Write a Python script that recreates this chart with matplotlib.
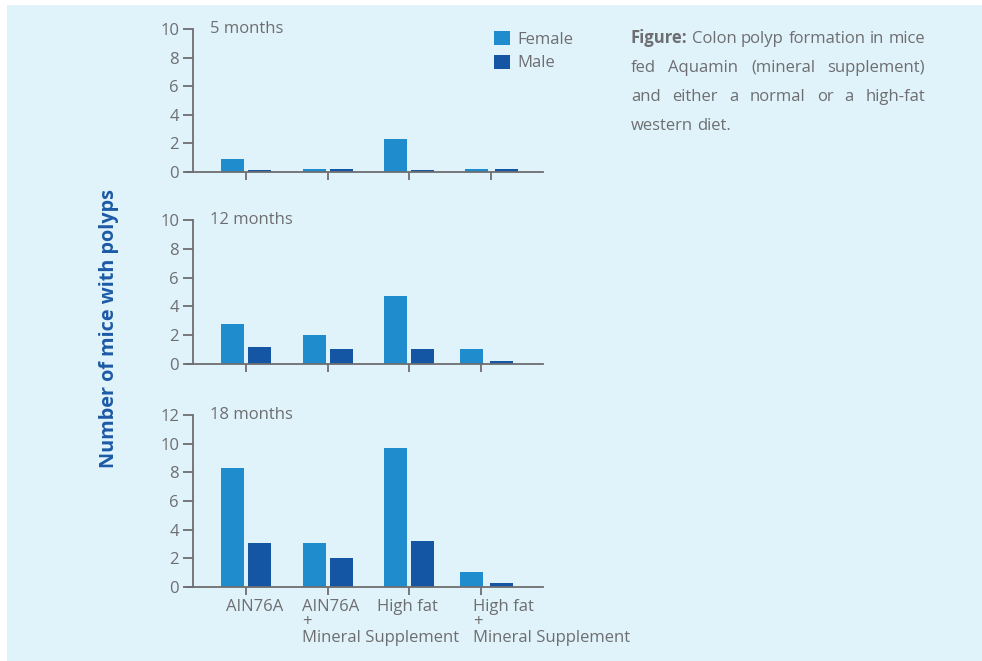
import numpy as np
import matplotlib
matplotlib.use("Agg")
import matplotlib.pyplot as plt
from matplotlib.patches import Rectangle

plt.rcParams["font.family"] = ["Open Sans", "DejaVu Sans"]

groups = ["AIN76A", "AIN76A\n+\nMineral Supplement", "High fat", "High fat\n+\nMineral Supplement"]
periods = ["5 months", "12 months", "18 months"]
female = [
    [0.9, 0.2, 2.3, 0.2],
    [2.8, 2.0, 4.7, 1.05],
    [8.3, 3.1, 9.7, 1.05],
]
male = [
    [0.15, 0.2, 0.15, 0.2],
    [1.2, 1.05, 1.05, 0.2],
    [3.1, 2.0, 3.2, 0.25],
]
ymax = [10, 10, 12]
caption = ("Colon polyp formation in mice fed Aquamin (mineral supplement) "
           "and either a normal or a high-fat western diet.")

c_female = "#1f8dcd"
c_male = "#1455a4"
c_text = "#6d6e71"
c_bg = "#e1f3fa"

W, H = 982, 661
fig = plt.figure(figsize=(W / 100, H / 100), dpi=100, facecolor="white")
fig.patches.append(Rectangle((7 / W, 0), 1, 1 - 5 / H, transform=fig.transFigure,
                             facecolor=c_bg, edgecolor="none", zorder=-10))

# panel rectangles in pixels: (left, y of zero line, height)
panels = [(186, 172, 143), (186, 364, 144), (186, 587, 172)]
unit = 81.7          # pixels per group step
x0 = 246             # pixel of first group centre
ax_w = 357
bw = 23 / unit
off = 13.5 / unit

axes = []
for i, (left, zero_y, h) in enumerate(panels):
    ax = fig.add_axes([left / W, 1 - zero_y / H, ax_w / W, h / H])
    ax.set_facecolor("none")
    pos = np.arange(len(groups), dtype=float)
    pos[3] = 3.0 if i == 0 else 2.94
    fo = np.array([off, off, off, off + 1.5 / unit])
    ax.bar(pos - fo, female[i], width=bw, color=c_female, label="Female")
    ax.bar(pos + fo, male[i], width=bw, color=c_male, label="Male")
    ax.set_xlim((left - x0) / unit, (left + ax_w - x0) / unit)
    ax.set_ylim(0, ymax[i])
    ax.set_yticks(np.arange(0, ymax[i] + 1, 2))
    ticks = pos.copy()
    if i > 0:
        ticks[3] = 2.88
    ax.set_xticks(ticks)
    ax.set_xticklabels([])
    for s in ["top", "right"]:
        ax.spines[s].set_visible(False)
    ax.spines["left"].set_position(("axes", 7 / ax_w))
    for s in ["left", "bottom"]:
        ax.spines[s].set_color(c_text)
        ax.spines[s].set_linewidth(1.3)
    ax.tick_params(axis="y", length=7, width=1.3, color=c_text, labelcolor=c_text,
                   labelsize=12, pad=3)
    ax.tick_params(axis="x", length=6, width=1.3, color=c_text, direction="out")
    ax.text(24 / ax_w, ymax[i], periods[i], transform=ax.get_yaxis_transform(),
            ha="left", va="center", fontsize=12, color=c_text)
    axes.append(ax)

# group labels under the last panel, one text per line
ax = axes[-1]
label_x = [-0.245, 0.69, 1.6, 2.78]
line_base = [611, 626.5, 642]
for lx, g in zip(label_x, groups):
    px = ax.transData.transform((lx, 0))[0]
    for j, part in enumerate(g.split("\n")):
        fig.text(px / W, 1 - line_base[j] / H, part, ha="left", va="baseline",
                 fontsize=12, color=c_text)

fig.text(109 / W, 1 - 328 / H, "Number of mice with polyps", rotation=90,
         ha="center", va="center", fontsize=14.3, fontweight="bold", color="#1c5aa6")

axes[0].legend(loc="upper left", bbox_to_anchor=(494 / W, 1 - 31 / H),
               bbox_transform=fig.transFigure, frameon=False, fontsize=12,
               handlelength=0.96, handleheight=0.9, handletextpad=0.42,
               labelspacing=0.42, borderpad=0, borderaxespad=0, labelcolor=c_text)

# justified caption block
fig.canvas.draw()
renderer = fig.canvas.get_renderer()
left_px, right_px = 631, 925
baselines = [43, 72, 101, 130]


def width_of(s, fw="normal"):
    t = fig.text(0, 0, s, fontsize=12, fontweight=fw)
    w = t.get_window_extent(renderer).width
    t.remove()
    return w


space_w = width_of("a a") - width_of("aa")
words = [("Figure:", "bold")] + [(w, "normal") for w in caption.split()]
measured = [width_of(w, fw) for w, fw in words]

lines, cur, cur_w = [], [], 0
for (w, fw), mw in zip(words, measured):
    need = mw if not cur else cur_w + space_w + mw
    if cur and need > right_px - left_px:
        lines.append(cur)
        cur, cur_w = [], 0
        need = mw
    cur.append((w, fw, mw))
    cur_w = need
lines.append(cur)

for k, line in enumerate(lines):
    total = sum(m for _, _, m in line)
    last = k == len(lines) - 1
    gap = space_w if (last or len(line) == 1) else (right_px - left_px - total) / (len(line) - 1)
    x = left_px
    for w, fw, mw in line:
        fig.text(x / W, 1 - baselines[k] / H, w, fontsize=12, fontweight=fw,
                 color=c_text, ha="left", va="baseline")
        x += mw + gap

fig.savefig("out.png", dpi=100, facecolor=fig.get_facecolor())
